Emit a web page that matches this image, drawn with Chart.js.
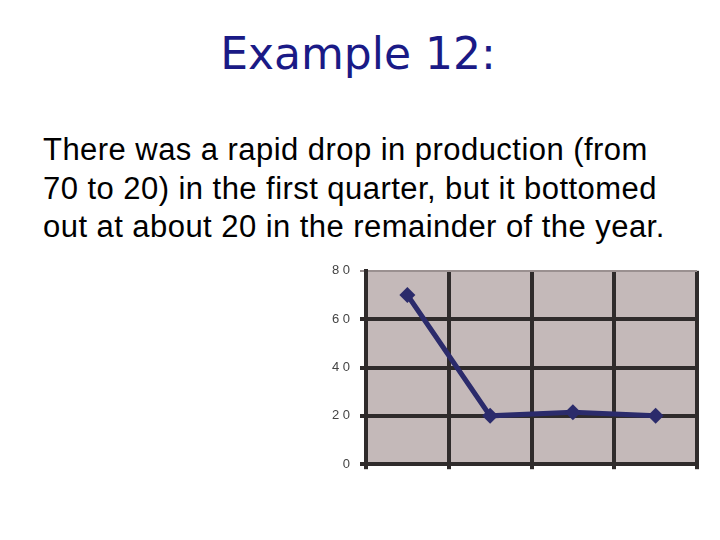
<!DOCTYPE html>
<html lang="en">
  <head>
    <meta charset="UTF-8" />
    <title>Example 12</title>
    <script src="https://cdn.jsdelivr.net/npm/chart.js"></script>
    <style>
      body {
        margin: 0;
        width: 720px;
        height: 540px;
        background: #fff;
        position: relative;
        overflow: hidden;
      }
      h1 {
        position: absolute;
        left: 0;
        width: 716px;
        top: 30px;
        margin: 0;
        text-align: center;
        font: normal 44px 'DejaVu Sans', sans-serif;
        line-height: 48px;
        color: #1a1a86;
      }
      .body-text {
        position: absolute;
        left: 43px;
        top: 131px;
        font: 31px 'Liberation Sans', Arial, sans-serif;
        letter-spacing: 0.45px;
        line-height: 38.5px;
        color: #000;
        white-space: nowrap;
      }
      .chart-box {
        position: absolute;
        left: 320px;
        top: 253px;
        width: 385px;
        height: 229px;
      }
    </style>
  </head>
  <body>
    <h1>Example 12:</h1>
    <div class="body-text">
      <div>There was a rapid drop in production (from</div>
      <div>70 to 20) in the first quarter, but it bottomed</div>
      <div>out at about 20 in the remainder of the year.</div>
    </div>
    <div class="chart-box"><canvas id="chart"></canvas></div>

    <script>
      // quarters, no labels shown in the picture
      const quarters = ['Q1', 'Q2', 'Q3', 'Q4'];
      const production = [70, 20, 21.5, 20];
      const yTicks = [0, 20, 40, 60, 80];

      const gridDark = '#2f2b2b';
      const borderGray = '#9a9090';

      // grey plot area like the old spreadsheet chart
      const plotBg = {
        id: 'plotBg',
        beforeDraw(chart) {
          const a = chart.chartArea;
          const c = chart.ctx;
          c.save();
          c.fillStyle = '#c4b9b9';
          c.fillRect(a.left, a.top, a.right - a.left, a.bottom - a.top);
          c.restore();
        },
      };

      const ctx = document.getElementById('chart').getContext('2d');
      const chart = new Chart(ctx, {
        type: 'line',
        data: {
          labels: quarters,
          datasets: [
            {
              data: production,
              borderColor: '#2b2b6b',
              backgroundColor: '#2b2b6b',
              borderWidth: 5,
              pointStyle: 'rectRot',
              pointRadius: 8,
              pointBorderWidth: 0,
              tension: 0,
            },
          ],
        },
        options: {
          responsive: true,
          maintainAspectRatio: false,
          animation: false,
          layout: { padding: { top: 3, right: 8, left: 0, bottom: 0 } },
          plugins: {
            legend: { display: false },
            tooltip: { enabled: false },
          },
          scales: {
            x: {
              offset: true,
              grid: {
                offset: true,
                lineWidth: 4,
                tickLength: 5,
                color: (c) => (c.index === quarters.length ? borderGray : gridDark),
              },
              border: { display: true, color: gridDark, width: 4 },
              ticks: { display: false },
              afterFit(scale) {
                scale.height = 10;
              },
            },
            y: {
              min: 0,
              max: 80,
              afterBuildTicks(scale) {
                scale.ticks = yTicks.map((v) => ({ value: v }));
              },
              grid: {
                lineWidth: (c) => (c.tick && c.tick.value === 80 ? 2 : 4),
                tickLength: 6,
                color: (c) => (c.tick && c.tick.value === 80 ? borderGray : gridDark),
              },
              border: { display: true, color: gridDark, width: 4 },
              ticks: {
                padding: 10,
                color: '#444',
                font: { family: 'Liberation Sans', size: 13 },
                callback: (v) => String(v).split('').join(' '),
              },
              afterFit(scale) {
                scale.width = 46;
              },
            },
          },
        },
        plugins: [plotBg],
      });
    </script>
  </body>
</html>
